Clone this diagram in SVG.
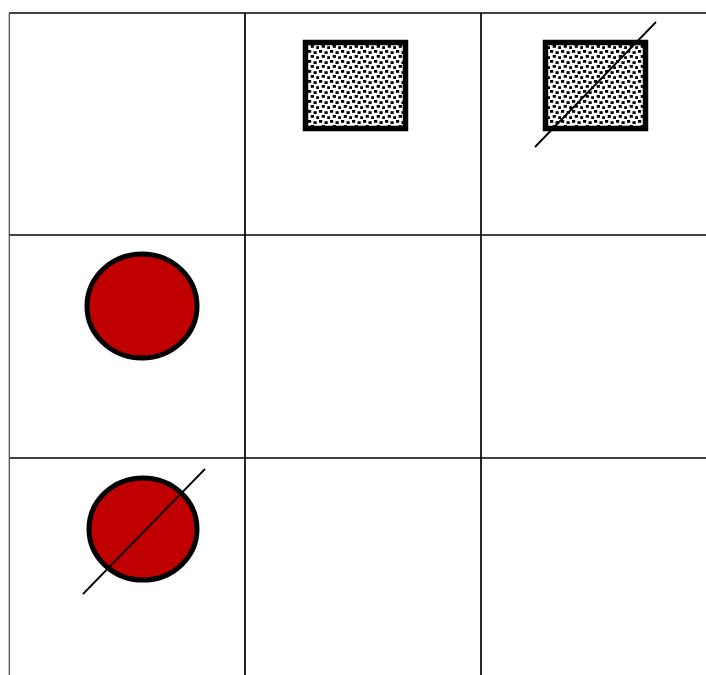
<svg xmlns="http://www.w3.org/2000/svg" width="706" height="675" viewBox="0 0 706 675">
<style>
.g{stroke:#000;stroke-width:1.7;fill:none}
.sq{stroke:#000;stroke-width:5.5}
.ci{fill:#c00000;stroke:#000;stroke-width:5}
.sl{stroke:#000;stroke-width:1.8}
</style>
<defs>
<pattern id="dots" width="11" height="10" patternUnits="userSpaceOnUse">
<rect width="11" height="10" fill="#fff"/>
<rect x="0" y="0" width="3.2" height="2.8" fill="#000"/>
<rect x="5.5" y="1.2" width="3.2" height="2.8" fill="#000"/>
<rect x="2.7" y="5" width="3.2" height="2.8" fill="#000"/>
<rect x="8.2" y="6.2" width="3.2" height="2.8" fill="#000"/>
</pattern>
</defs>
<rect width="706" height="675" fill="#fff"/>
<g id="grid">
<line class="g" x1="9" y1="13" x2="706" y2="13"/>
<line class="g" x1="9" y1="235" x2="706" y2="235"/>
<line class="g" x1="9" y1="458" x2="706" y2="458"/>
<line x1="9.3" y1="13" x2="9.3" y2="675" stroke="#555" stroke-width="1.3"/>
<line class="g" x1="245" y1="13" x2="245" y2="458" stroke-width="1.3"/>
<line class="g" x1="481" y1="13" x2="481" y2="458" stroke-width="1.3"/>
<line class="g" x1="245" y1="458" x2="245" y2="675" stroke-width="2"/>
<line class="g" x1="481" y1="458" x2="481" y2="675" stroke-width="2"/>
</g>
<g id="node-rect1">
<rect class="sq" x="305.5" y="42.5" width="100" height="86" fill="url(#dots)"/>
</g>
<g id="node-rect2">
<rect class="sq" x="545.5" y="42.5" width="100" height="86" fill="url(#dots)"/>
<line class="sl" x1="535" y1="147" x2="656" y2="22"/>
</g>
<g id="node-circle1">
<ellipse class="ci" cx="142" cy="306" rx="55" ry="52"/>
</g>
<g id="node-circle2">
<ellipse class="ci" cx="143" cy="529" rx="54" ry="51"/>
<line class="sl" x1="83" y1="594" x2="205" y2="469"/>
</g>
</svg>
